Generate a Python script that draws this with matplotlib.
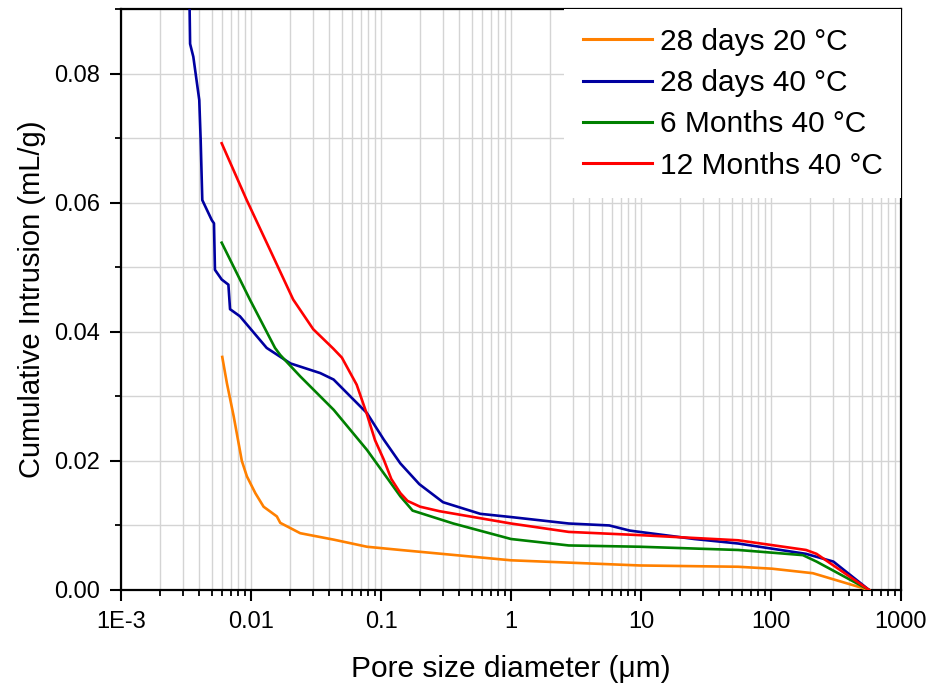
import numpy as np
import matplotlib
matplotlib.use("Agg")
import matplotlib.pyplot as plt
from matplotlib.ticker import LogLocator, FixedLocator, FixedFormatter, MultipleLocator, FormatStrFormatter

# ---- data (pore diameter in µm, cumulative intrusion in mL/g) ----
labels = ["28 days 20 \u00b0C", "28 days 40 \u00b0C", "6 Months 40 \u00b0C", "12 Months 40 \u00b0C"]
colors = ["#FF8000", "#0000A0", "#008000", "#FF0000"]

x_28d20 = [0.00601, 0.00653, 0.00736, 0.0085, 0.0093, 0.0108, 0.0125, 0.0158, 0.0168, 0.0239,
           0.0433, 0.078, 0.141, 1.0, 9.8, 56, 102, 210, 569]
y_28d20 = [0.0361, 0.0320, 0.0269, 0.0200, 0.0176, 0.0150, 0.0129, 0.0114, 0.0104, 0.0088,
           0.0078, 0.0067, 0.0062, 0.0046, 0.0038, 0.0036, 0.0033, 0.0026, 0.0]

x_28d40 = [0.00336, 0.0034, 0.0036, 0.0040, 0.0041, 0.00422, 0.00499, 0.00519, 0.00528, 0.00595,
           0.0067, 0.0069, 0.00822, 0.0132, 0.0201, 0.0341, 0.0432, 0.078, 0.105, 0.141,
           0.197, 0.30, 0.58, 1.0, 2.78, 5.7, 8.2, 25.7, 56, 186, 302, 569]
y_28d40 = [0.092, 0.0846, 0.0826, 0.0759, 0.0697, 0.0604, 0.0573, 0.0568, 0.0496, 0.0481,
           0.0473, 0.0435, 0.0424, 0.0375, 0.0351, 0.0336, 0.0326, 0.0274, 0.0233, 0.0196,
           0.0164, 0.0136, 0.0118, 0.0113, 0.0103, 0.0100, 0.0092, 0.0079, 0.0072, 0.0056, 0.0044, 0.0]

x_6m40 = [0.00595, 0.0098, 0.0153, 0.0168, 0.0239, 0.0433, 0.078, 0.141, 0.175, 0.36,
          1.0, 2.78, 9.8, 56, 176, 224, 569]
y_6m40 = [0.0538, 0.0450, 0.0375, 0.0364, 0.0331, 0.0279, 0.0217, 0.0145, 0.0123, 0.0103,
          0.0079, 0.0069, 0.0067, 0.0062, 0.0054, 0.0044, 0.0]

x_12m40 = [0.00595, 0.00927, 0.0140, 0.0211, 0.0301, 0.0429, 0.050, 0.065, 0.078, 0.09,
           0.105, 0.12, 0.141, 0.16, 0.2, 0.283, 1.0, 2.78, 9.8, 56, 186, 224, 569]
y_12m40 = [0.0692, 0.0604, 0.0527, 0.0450, 0.0404, 0.0374, 0.0360, 0.0318, 0.0272, 0.0232,
           0.0202, 0.0172, 0.0150, 0.0138, 0.0129, 0.0122, 0.0103, 0.0090, 0.0085, 0.0077,
           0.0062, 0.0056, 0.0]

series_x = [x_28d20, x_28d40, x_6m40, x_12m40]
series_y = [y_28d20, y_28d40, y_6m40, y_12m40]

x_ticks = [1e-3, 1e-2, 1e-1, 1, 10, 100, 1000]
x_ticklabels = ["1E-3", "0.01", "0.1", "1", "10", "100", "1000"]

# ---- figure ----
plt.rcParams['font.family'] = ['Liberation Sans', 'DejaVu Sans']
fig = plt.figure(figsize=(9.31, 6.89), dpi=100)
ax = fig.add_axes([121/931, 1-590/689, (901-121)/931, (590-9)/689])

for xs, ys, c, lab in zip(series_x, series_y, colors, labels):
    ax.plot(xs, ys, color=c, lw=1.9, label=lab, zorder=3)

ax.set_xscale('log')
ax.set_xlim(1e-3, 1000)
ax.set_ylim(0, 0.09)

ax.xaxis.set_major_locator(FixedLocator(x_ticks))
ax.xaxis.set_major_formatter(FixedFormatter(x_ticklabels))
ax.xaxis.set_minor_locator(LogLocator(base=10, subs=np.arange(2, 10), numticks=20))
ax.xaxis.set_minor_formatter(plt.NullFormatter())
ax.yaxis.set_major_locator(MultipleLocator(0.02))
ax.yaxis.set_minor_locator(MultipleLocator(0.01))
ax.yaxis.set_major_formatter(FormatStrFormatter('%.2f'))

ax.grid(True, which='both', color='#d4d4d4', lw=1.0, zorder=0)
ax.set_axisbelow(True)

ax.tick_params(which='major', direction='out', length=8, width=1.5, labelsize=17, pad=7)
ax.tick_params(which='minor', direction='out', length=4.2, width=1.3)
ax.tick_params(top=False, right=False, which='both')
for s in ax.spines.values():
    s.set_linewidth(1.6)

ax.set_xlabel("Pore size diameter (\u03bcm)", fontsize=21.5, labelpad=16)
ax.set_ylabel("Cumulative Intrusion (mL/g)", fontsize=21, labelpad=6)

leg = ax.legend(loc='upper right', bbox_to_anchor=(1.0, 1.0), borderaxespad=0,
                fontsize=21.5, handlelength=2.3, handletextpad=0.27, labelspacing=0.45,
                borderpad=0.62, frameon=True, fancybox=False)
leg.get_frame().set_edgecolor('none')
leg.get_frame().set_facecolor('white')
leg.get_frame().set_alpha(1.0)
for l in leg.get_lines():
    l.set_linewidth(2.2)

fig.savefig("out.png", dpi=100)
